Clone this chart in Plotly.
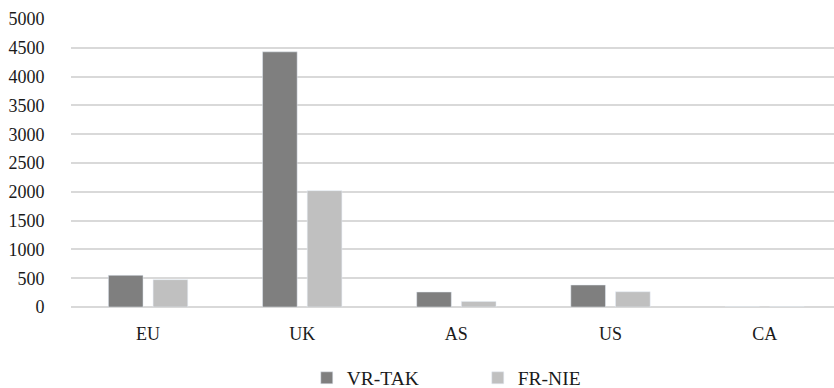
import plotly.graph_objects as go

# Category labels and series values
regions = ["EU", "UK", "AS", "US", "CA"]
vr_tak = [550, 4430, 260, 382, 0]
fr_nie = [475, 2020, 97, 265, 0]
y_ticks = [0, 500, 1000, 1500, 2000, 2500, 3000, 3500, 4000, 4500, 5000]

FONT = "Times New Roman, Liberation Serif, serif"
GRID = "#d9d9d9"

fig = go.Figure()
fig.add_trace(go.Bar(name="VR-TAK", x=regions, y=vr_tak, marker_color="#7f7f7f"))
fig.add_trace(go.Bar(name="FR-NIE", x=regions, y=fr_nie, marker_color="#c0c0c0"))

fig.update_layout(
    width=834,
    height=388,
    margin=dict(l=71, r=0, t=18.5, b=81.3, autoexpand=False),
    paper_bgcolor="white",
    plot_bgcolor="white",
    barmode="group",
    bargap=0.42,
    bargroupgap=0.225,
    font=dict(family=FONT, size=18, color="#1a1a1a"),
    showlegend=True,
    legend=dict(
        orientation="h",
        x=0.309,
        xanchor="left",
        y=-0.247,
        yanchor="middle",
        font=dict(family=FONT, size=19.5, color="#1a1a1a"),
        entrywidth=126,
    ),
    xaxis=dict(
        range=[-0.5, 4.45],
        showgrid=False,
        showline=False,
        ticks="outside",
        ticklen=10,
        tickcolor="rgba(0,0,0,0)",
        tickfont=dict(family=FONT, size=18),
    ),
    yaxis=dict(
        range=[0, 5000],
        tickvals=y_ticks,
        showgrid=True,
        gridcolor=GRID,
        gridwidth=1.5,
        zeroline=True,
        zerolinecolor=GRID,
        zerolinewidth=1.5,
        showline=False,
        ticks="outside",
        ticklen=22,
        tickcolor="rgba(0,0,0,0)",
        tickfont=dict(family=FONT, size=18),
    ),
)

fig.write_html("out.html")
